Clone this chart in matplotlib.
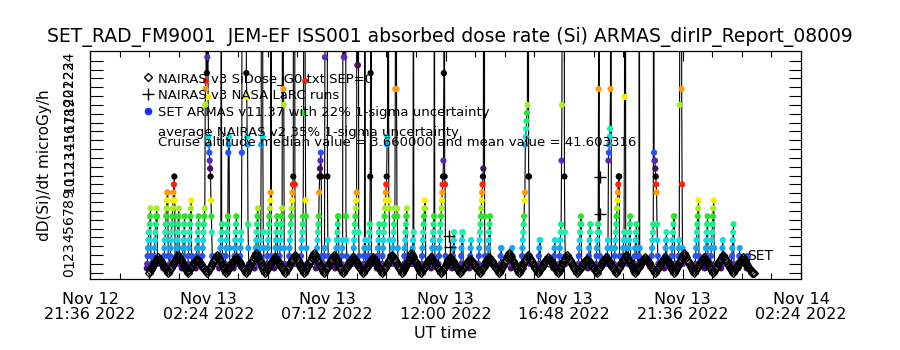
import numpy as np
import pandas as pd
import matplotlib
matplotlib.use("Agg")
import matplotlib.pyplot as plt
from matplotlib.lines import Line2D

t0 = pd.Timestamp("2022-11-13 00:00")

# ARMAS dose rate (microGy/h), 1-min cadence segments: start minute after t0, values
armas_start = [-6, 10, 34, 50, 65, 79, 93, 113, 128, 170,
               185, 205, 220, 256, 268, 285, 304, 316, 339, 368,
               405, 424, 452, 467, 495, 520, 531, 553, 566, 590,
               618, 638, 661, 685, 703, 736, 756, 778, 800, 822,
               852, 879, 905, 945, 982, 996, 1042, 1066, 1086, 1112,
               1130, 1150, 1163, 1178, 1189, 1220, 1252, 1268, 1285, 1326,
               1350, 1364, 1390, 1414, 1432, 1452]
armas_dose = [
    [0.5, 1.0, 1.9, 2.8, 3.7, 4.6, 4.6, 5.5, 6.4, 7.3, 1.9, 1.0],
    [0.5, 1.0, 1.9, 2.8, 3.7, 4.6, 5.5, 6.4, 7.3, 6.4, 1.0],
    [0.5, 1.0, 1.9, 2.8, 3.7, 4.6, 5.5, 6.4, 7.3, 8.2, 9.1, 9.1, 1.9],
    [1.0, 1.9, 2.8, 3.7, 4.6, 5.5, 6.4, 7.3, 8.2, 9.1, 10.0, 10.9, 8.2, 1.0],
    [1.0, 1.9, 2.8, 3.7, 4.6, 5.5, 6.4, 7.3, 1.0],
    [0.5, 1.0, 1.9, 2.8, 3.7, 4.6, 5.5, 6.4, 1.0],
    [0.5, 1.0, 1.9, 2.8, 3.7, 4.6, 5.5, 6.4, 7.3, 8.2, 1.9, 1.0],
    [0.5, 1.0, 1.9, 2.8, 3.7, 4.6, 5.5, 6.4, 1.0],
    [1.0, 1.9, 2.8, 3.7, 4.6, 5.5, 6.4, 7.3, 19.0, 20.8, 21.7, 48.0, 22.6, 24.4,
     65.0, 19.9, 15.4, 14.5, 13.6, 12.7, 11.8, 10.9, 8.2, 6.4, 4.6, 1.9, 1.0],
    [0.5, 1.0, 1.9, 2.8, 3.7, 55.0, 4.6, 5.5, 1.9, 1.0],
    [1.0, 1.9, 2.8, 3.7, 4.6, 5.5, 6.4, 13.6, 14.5, 15.4, 2.8, 1.0],
    [0.5, 1.0, 1.9, 2.8, 3.7, 4.6, 5.5, 6.4, 1.0],
    [1.0, 1.9, 2.8, 3.7, 4.6, 13.6, 70, 85, 95, 100, 90, 95, 80, 85, 75, 60,
     22.6, 19.9, 15.4, 14.5, 5.5, 2.8, 1.0],
    [0.5, 1.0, 1.9, 2.8, 3.7, 4.6, 5.5, 6.4, 7.3, 1.0],
    [1.0, 1.9, 2.8, 3.7, 14.5, 60, 70, 65, 15.4, 4.6, 2.8, 1.0],
    [0.5, 1.0, 1.9, 2.8, 3.7, 4.6, 5.5, 6.4, 7.3, 8.2, 9.1, 45, 1.9, 1.0],
    [0.5, 1.0, 1.9, 2.8, 3.7, 4.6, 5.5, 6.4, 1.0],
    [1.0, 1.9, 2.8, 3.7, 4.6, 5.5, 6.4, 7.3, 50, 60, 20.8, 19.0, 2.8, 1.0],
    [1.0, 1.9, 2.8, 3.7, 4.6, 5.5, 6.4, 7.3, 8.2, 9.1, 10.0, 10.9, 80, 90, 70, 10.0, 1.9, 1.0],
    [1.0, 1.9, 2.8, 3.7, 4.6, 5.5, 6.4, 18.1, 75, 85, 90, 21.7, 8.2, 6.4, 2.8, 1.0],
    [0.5, 1.0, 1.9, 2.8, 3.7, 4.6, 5.5, 6.4, 9.1, 10.9, 11.8, 12.7, 13.6, 10.9, 1.9, 1.0],
    [1.0, 1.9, 2.8, 24.4, 80, 95, 100, 90, 85, 10.9, 3.7, 1.9, 1.0],
    [0.5, 1.0, 1.9, 2.8, 3.7, 4.6, 5.5, 6.4, 6.4, 1.0],
    [1.0, 1.9, 2.8, 3.7, 50, 70, 24.4, 24.4, 60, 80, 70, 6.4, 3.7, 1.9, 1.0],
    [1.0, 1.9, 2.8, 3.7, 4.6, 5.5, 6.4, 7.3, 8.2, 9.1, 60, 23.5, 23.5, 70, 4.6, 1.9, 1.0],
    [0.5, 1.0, 1.9, 2.8, 40, 3.7, 1.9, 1.0],
    [1.0, 1.9, 2.8, 3.7, 4.6, 5.5, 10.9, 22.6, 65, 1.9, 1.0],
    [0.5, 1.0, 1.9, 2.8, 3.7, 4.6, 5.5, 1.0],
    [1.0, 1.9, 2.8, 3.7, 4.6, 5.5, 6.4, 7.3, 8.2, 9.1, 10.0, 10.9, 14.5, 15.4, 55, 65,
     8.2, 7.3, 3.7, 1.9, 1.0],
    [1.0, 1.9, 2.8, 3.7, 4.6, 5.5, 6.4, 7.3, 20.8, 45, 60, 20.8, 7.3, 6.4, 2.8, 1.0],
    [0.5, 1.0, 1.9, 2.8, 3.7, 4.6, 5.5, 6.4, 7.3, 1.9, 1.0],
    [1.0, 1.9, 2.8, 3.7, 50, 4.6, 1.9, 1.0],
    [0.5, 1.0, 1.9, 2.8, 3.7, 4.6, 5.5, 6.4, 7.3, 8.2, 7.3, 1.0],
    [0.5, 1.0, 1.9, 2.8, 3.7, 4.6, 5.5, 6.4, 45, 2.8, 1.0],
    [1.0, 1.9, 2.8, 3.7, 4.6, 5.5, 6.4, 7.3, 8.2, 9.1, 10.0, 10.9, 12.7, 22.6, 75,
     10.9, 10.0, 1.9, 1.0],
    [0.5, 1.0, 1.9, 2.8, 3.7, 4.6, 1.0],
    [0.5, 1.0, 1.9, 2.8, 3.7, 4.6, 4.6, 1.0],
    [0.5, 1.0, 1.9, 2.8, 3.7, 1.0],
    [1.0, 1.9, 2.8, 3.7, 4.6, 5.5, 6.4, 7.3, 8.2, 9.1, 10.0, 10.9, 11.8, 70, 85, 6.4, 1.9, 1.0],
    [1.0, 1.9, 2.8, 3.7, 4.6, 5.5, 6.4, 1.0],
    [0.5, 1.0, 1.9, 2.8, 2.8, 1.0],
    [0.5, 1.0, 1.9, 2.8, 1.9, 1.0],
    [1.0, 1.9, 2.8, 3.7, 4.6, 5.5, 6.4, 8.2, 9.1, 14.5, 15.4, 16.3, 17.2, 18.1, 19.0,
     60, 80, 10.9, 10.9, 1.9, 1.0],
    [0.5, 1.0, 1.9, 2.8, 3.7, 3.7, 1.0],
    [0.5, 1.0, 1.9, 2.8, 3.7, 1.0],
    [1.0, 1.9, 2.8, 3.7, 4.6, 5.5, 12.7, 19.0, 70, 90, 80, 75, 85, 10.9, 4.6, 1.9, 1.0],
    [0.5, 1.0, 1.9, 2.8, 3.7, 4.6, 5.5, 6.4, 5.5, 1.0],
    [0.5, 1.0, 1.9, 2.8, 3.7, 4.6, 5.5, 1.0],
    [1.0, 1.9, 2.8, 3.7, 4.6, 5.5, 20.8, 60, 4.6, 1.9, 1.0],
    [1.0, 1.9, 2.8, 3.7, 12.7, 13.6, 14.5, 15.4, 16.3, 20.8, 70, 2.8, 1.0],
    [1.0, 1.9, 2.8, 3.7, 4.6, 5.5, 6.4, 7.3, 8.2, 9.1, 10.0, 10.9, 10.9, 1.9, 1.0],
    [1.0, 1.9, 2.8, 3.7, 4.6, 19.9, 65, 75, 3.7, 1.9],
    [1.0, 1.9, 2.8, 3.7, 4.6, 5.5, 6.4, 1.0],
    [0.5, 1.0, 1.9, 2.8, 3.7, 4.6, 5.5, 1.9],
    [1.0, 1.9, 50, 2.8, 1.0],
    [1.0, 1.9, 2.8, 3.7, 4.6, 5.5, 65, 13.6, 12.7, 12.7, 11.8, 10.9, 10.0, 9.1, 5.5, 3.7, 1.9, 1.0],
    [0.5, 1.0, 1.9, 2.8, 3.7, 4.6, 1.0],
    [0.5, 1.0, 1.9, 2.8, 3.7, 4.6, 5.5, 6.4, 6.4, 1.0],
    [1.0, 1.9, 2.8, 3.7, 19.0, 60, 70, 80, 75, 20.8, 10.0, 2.8, 1.0],
    [0.5, 1.0, 1.9, 2.8, 3.7, 4.6, 5.5, 6.4, 7.3, 8.2, 1.9, 1.0],
    [0.5, 1.0, 1.9, 2.8, 3.7, 4.6, 5.5, 6.4, 1.0],
    [1.0, 1.9, 2.8, 3.7, 4.6, 5.5, 6.4, 7.3, 8.2, 2.8, 1.0],
    [0.5, 1.0, 1.9, 2.8, 3.7, 1.0],
    [0.5, 1.0, 1.9, 2.8, 3.7, 4.6, 5.5, 1.0],
    [0.5, 1.0, 1.9, 2.8, 1.0],
    [0.5, 1.0, 1.9, 1.9, 0.5],
]

# NAIRAS v3 SiDose_G0, one value every 142 s from 2022-11-12 23:58:20
nairas_start = pd.Timestamp("2022-11-12 23:58:20")
nairas_dose = [
    0.0, 0.2, 0.4, 0.5, 0.7, 0.9, 1.1, 1.3, 1.4, 1.6, 1.8, 1.6, 1.4, 1.3, 1.1, 0.9, 0.7, 0.5, 0.4, 0.2,
    0.0, 0.2, 0.4, 0.6, 0.8, 1.0, 1.2, 1.4, 1.6, 1.8, 2.0, 1.8, 1.6, 1.4, 1.2, 1.0, 0.8, 0.6, 0.4, 0.2,
    0.0, 0.2, 0.3, 0.5, 0.6, 0.8, 1.0, 1.1, 1.3, 1.4, 1.6, 1.4, 1.3, 1.1, 1.0, 0.8, 0.6, 0.5, 0.3, 0.2,
    0.0, 0.2, 0.4, 0.6, 0.8, 1.0, 1.2, 1.4, 1.6, 1.8, 2.0, 1.8, 1.6, 1.4, 1.2, 1.0, 0.8, 0.6, 0.4, 0.2,
    0.0, 0.2, 0.4, 0.5, 0.7, 0.9, 1.1, 1.3, 1.4, 1.6, 1.8, 1.6, 1.4, 1.3, 1.1, 0.9, 0.7, 0.5, 0.4, 0.2,
    0.0, 0.2, 0.4, 0.7, 0.9, 1.1, 1.3, 1.5, 1.8, 2.0, 2.2, 2.0, 1.8, 1.5, 1.3, 1.1, 0.9, 0.7, 0.4, 0.2,
    0.0, 0.2, 0.4, 0.5, 0.7, 0.9, 1.1, 1.3, 1.4, 1.6, 1.8, 1.6, 1.4, 1.3, 1.1, 0.9, 0.7, 0.5, 0.4, 0.2,
    0.0, 0.2, 0.4, 0.6, 0.8, 1.0, 1.2, 1.4, 1.6, 1.8, 2.0, 1.8, 1.6, 1.4, 1.2, 1.0, 0.8, 0.6, 0.4, 0.2,
    0.0, 0.2, 0.4, 0.7, 0.9, 1.1, 1.3, 1.5, 1.8, 2.0, 2.2, 2.0, 1.8, 1.5, 1.3, 1.1, 0.9, 0.7, 0.4, 0.2,
    0.0, 0.2, 0.4, 0.6, 0.8, 1.0, 1.2, 1.4, 1.6, 1.8, 2.0, 1.8, 1.6, 1.4, 1.2, 1.0, 0.8, 0.6, 0.4, 0.2,
    0.0, 0.2, 0.4, 0.5, 0.7, 0.9, 1.1, 1.3, 1.4, 1.6, 1.8, 1.6, 1.4, 1.3, 1.1, 0.9, 0.7, 0.5, 0.4, 0.2,
    0.0, 0.2, 0.4, 0.5, 0.7, 0.9, 1.1, 1.3, 1.4, 1.6, 1.8, 1.6, 1.4, 1.3, 1.1, 0.9, 0.7, 0.5, 0.4, 0.2,
    0.0, 0.2, 0.4, 0.6, 0.8, 1.0, 1.2, 1.4, 1.6, 1.8, 2.0, 1.8, 1.6, 1.4, 1.2, 1.0, 0.8, 0.6, 0.4, 0.2,
    0.0, 0.2, 0.4, 0.7, 0.9, 1.1, 1.3, 1.5, 1.8, 2.0, 2.2, 2.0, 1.8, 1.5, 1.3, 1.1, 0.9, 0.7, 0.4, 0.2,
    0.0, 0.2, 0.4, 0.5, 0.7, 0.9, 1.1, 1.3, 1.4, 1.6, 1.8, 1.6, 1.4, 1.3, 1.1, 0.9, 0.7, 0.5, 0.4, 0.2,
    0.0, 0.2, 0.4, 0.5, 0.7, 0.9, 1.1, 1.3, 1.4, 1.6, 1.8, 1.6, 1.4, 1.3, 1.1, 0.9, 0.7, 0.5, 0.4, 0.2,
    0.0, 0.2, 0.3, 0.5, 0.6, 0.8, 1.0, 1.1, 1.3, 1.4, 1.6, 1.4, 1.3, 1.1, 1.0, 0.8, 0.6, 0.5, 0.3, 0.2,
    0.0, 0.2, 0.4, 0.5, 0.7, 0.9, 1.1, 1.3, 1.4, 1.6, 1.8, 1.6, 1.4, 1.3, 1.1, 0.9, 0.7, 0.5, 0.4, 0.2,
    0.0, 0.2, 0.4, 0.7, 0.9, 1.1, 1.3, 1.5, 1.8, 2.0, 2.2, 2.0, 1.8, 1.5, 1.3, 1.1, 0.9, 0.7, 0.4, 0.2,
    0.0, 0.2, 0.4, 0.6, 0.8, 1.0, 1.2, 1.4, 1.6, 1.8, 2.0, 1.8, 1.6, 1.4, 1.2, 1.0, 0.8, 0.6, 0.4, 0.2,
    0.0, 0.2, 0.4, 0.5, 0.7, 0.9, 1.1, 1.3, 1.4, 1.6, 1.8, 1.6, 1.4, 1.3, 1.1, 0.9, 0.7, 0.5, 0.4, 0.2,
    0.0, 0.2, 0.4, 0.6, 0.8, 1.0, 1.2, 1.4, 1.6, 1.8, 2.0, 1.8, 1.6, 1.4, 1.2, 1.0, 0.8, 0.6, 0.4, 0.2,
    0.0, 0.2, 0.3, 0.5, 0.6, 0.8, 1.0, 1.1, 1.3, 1.4, 1.6, 1.4, 1.3, 1.1, 1.0, 0.8, 0.6, 0.5, 0.3, 0.2,
    0.0, 0.2, 0.4, 0.5, 0.7, 0.9, 1.1, 1.3, 1.4, 1.6, 1.8, 1.6, 1.4, 1.3, 1.1, 0.9, 0.7, 0.5, 0.4, 0.2,
    0.0, 0.2, 0.4, 0.6, 0.8, 1.0, 1.2, 1.4, 1.6, 1.8, 2.0, 1.8, 1.6, 1.4, 1.2, 1.0, 0.8, 0.6, 0.4, 0.2,
    0.0, 0.2, 0.4, 0.5, 0.7, 0.9, 1.1, 1.3, 1.4, 1.6, 1.8, 1.6, 1.4, 1.3, 1.1, 0.9, 0.7, 0.5, 0.4, 0.2,
    0.0, 0.2, 0.4, 0.5, 0.7, 0.9, 1.1, 1.3, 1.4, 1.6, 1.8, 1.6, 1.4, 1.3, 1.1, 0.9, 0.7, 0.5, 0.4, 0.2,
    0.0, 0.2, 0.4, 0.7, 0.9, 1.1, 1.3, 1.5, 1.8, 2.0, 2.2, 2.0, 1.8, 1.5, 1.3, 1.1, 0.9, 0.7, 0.4, 0.2,
    0.0, 0.2, 0.4, 0.5, 0.7, 0.9, 1.1, 1.3, 1.4, 1.6, 1.8, 1.6, 1.4, 1.3, 1.1, 0.9, 0.7, 0.5, 0.4, 0.2,
    0.0, 0.2, 0.4, 0.6, 0.8, 1.0, 1.2, 1.4, 1.6, 1.8, 2.0, 1.8, 1.6, 1.4, 1.2, 1.0, 0.8, 0.6, 0.4, 0.2,
    0.0, 0.2, 0.4, 0.5, 0.7, 0.9, 1.1, 1.3, 1.4, 1.6, 1.8, 1.6, 1.4, 1.3, 1.1, 0.9, 0.7, 0.5, 0.4, 0.2,
    0.0, 0.0, 0.0,
]

# NAIRAS v3 NASA LaRC runs
larc_min = [729, 730, 731, 1095, 1096]
larc_dose = [4.2, 2.9, 1.6, 10.8, 6.6]

title = "SET_RAD_FM9001  JEM-EF ISS001 absorbed dose rate (Si) ARMAS_dirIP_Report_08009"
legend_labels = ["NAIRAS v3 SiDose_G0.txt SEP=0", "NAIRAS v3 NASA LaRC runs",
                 "SET ARMAS v11.37 with 22% 1-sigma uncertainty"]
note_lines = ["average NAIRAS v2 35% 1-sigma uncertainty",
              "Cruise altitude median value = 3.660000 and mean value = 41.603316"]

# colour table, wraps every 13 dose levels (0.9 microGy/h apart)
level_colors = ["#5a2ab4", "#2a50f0", "#14a6f0", "#10dce6", "#22eeb0", "#18f080",
                "#30e030", "#a6ee28", "#f4f000", "#ff9a10", "#ff2010", "#000000",
                "#46105e"]


def dot_color(v):
    k = int(round((v - 1.0) / 0.9)) % 13
    return level_colors[k]


armas_t = []
armas_v = []
for start, seg in zip(armas_start, armas_dose):
    for i, v in enumerate(seg):
        armas_t.append(t0 + pd.Timedelta(minutes=start + i))
        armas_v.append(v)
armas_t = pd.to_datetime(armas_t)
armas_v = np.array(armas_v)

nairas_t = pd.date_range(nairas_start, periods=len(nairas_dose), freq="142s")
larc_t = pd.to_datetime([t0 + pd.Timedelta(minutes=m) for m in larc_min])

fig = plt.figure(figsize=(9, 3.5), dpi=100)
ax = fig.add_axes([90 / 900, 1 - 279 / 350, 711 / 900, 228 / 350])

ax.plot(armas_t, armas_v, color="black", lw=0.8, zorder=3)
ax.scatter(armas_t, armas_v, c=[dot_color(v) for v in armas_v], s=20, marker="o",
           linewidths=0, zorder=4)
ax.plot(nairas_t, nairas_dose, "D", mfc="none", mec="black", ms=4.5, mew=0.9, zorder=6)
larc_line, = ax.plot(larc_t, larc_dose, "+", color="black", ms=8, mew=1, zorder=7)

x0 = pd.Timestamp("2022-11-12 21:36")
x1 = pd.Timestamp("2022-11-14 02:24")
ax.set_xlim(x0, x1)
ax.set_ylim(-0.7, 25.1)

major = pd.date_range(x0, x1, freq="288min")
minor = pd.date_range(x0, x1, freq="72min")
ax.set_xticks(major)
ax.set_xticks(minor, minor=True)
ax.set_xticklabels([d.strftime("%b %d\n%H:%M %Y") for d in major], fontsize=11.5,
                   linespacing=1.05)
ax.set_yticks(range(0, 25))
ax.set_yticklabels([str(i) for i in range(0, 25)], rotation=90, va="center", fontsize=10)
ax.tick_params(axis="both", which="both", direction="in", top=True, right=True, width=0.8)
ax.tick_params(axis="x", which="major", length=7, pad=9)
ax.tick_params(axis="x", which="minor", length=4)
ax.tick_params(axis="y", which="major", length=9, pad=10)
for s in ax.spines.values():
    s.set_linewidth(0.9)

ax.set_ylabel("dD(Si)/dt microGy/h", fontsize=11)
ax.yaxis.set_label_coords(-0.053, 0.5)
ax.set_xlabel("UT time", fontsize=11.5, va="top")
ax.xaxis.set_label_coords(0.5, -0.205)

armas_key = Line2D([], [], ls="none", marker="o", ms=4.5, mfc="#1030ff", mec="#1030ff")
leg_diamond = Line2D([], [], ls="none", marker="D", ms=4, mfc="none", mec="black", mew=1.0)
ax.legend([leg_diamond, larc_line, armas_key], legend_labels, loc="upper left",
          bbox_to_anchor=(53 / 711, 207 / 228), frameon=False, fontsize=9.5, borderpad=0,
          borderaxespad=0, handlelength=0.8, handletextpad=0.3, labelspacing=0.3)
fig.text(158 / 900, 1 - 132 / 350, note_lines[0], fontsize=9.5, va="center", zorder=10)
fig.text(158 / 900, 1 - 143 / 350, note_lines[1], fontsize=9.5, va="center", zorder=10)
fig.text(747 / 900, 1 - 256 / 350, "SET", fontsize=10, va="center")

fig.text(0.5, 1 - 37 / 350, title, ha="center", va="center", fontsize=13.5)

fig.savefig("out.png", dpi=100, facecolor="white")
